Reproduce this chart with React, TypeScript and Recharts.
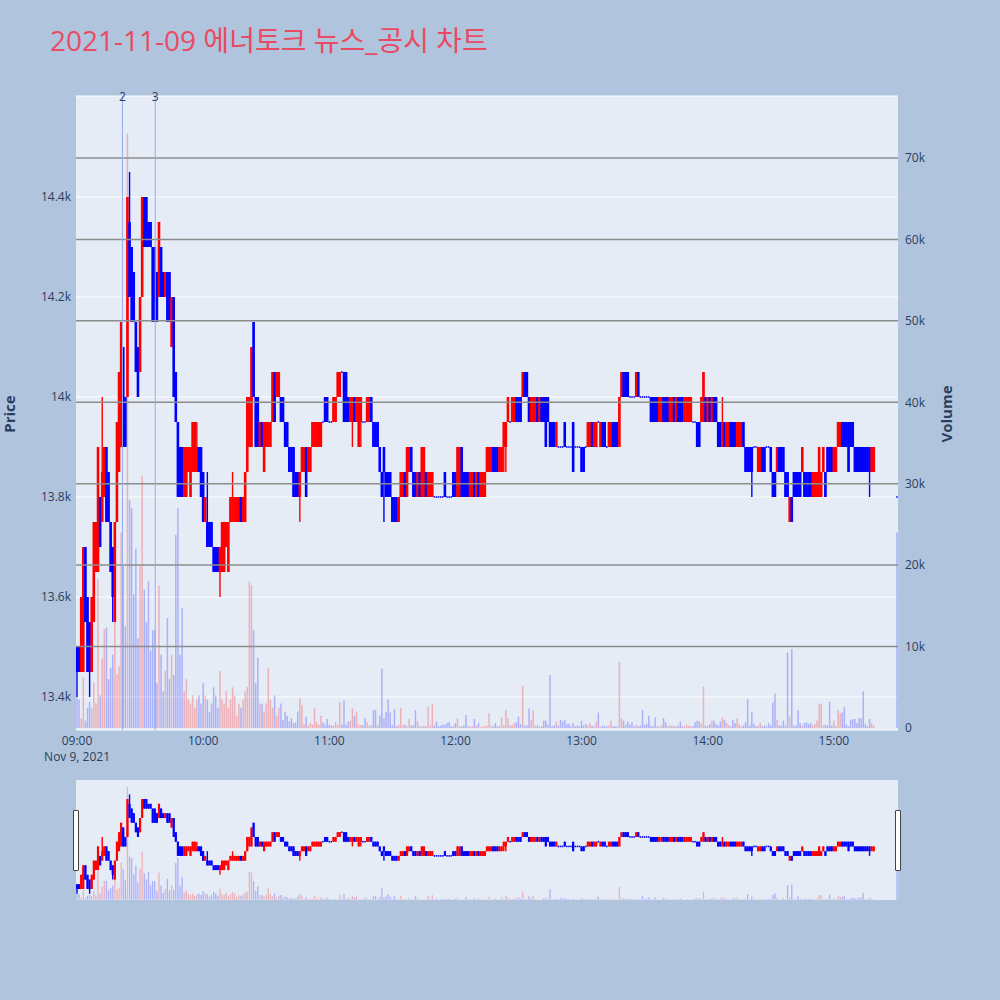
import React from "react";
import { ComposedChart, Bar, XAxis, YAxis, CartesianGrid, ReferenceLine } from "recharts";

const title = "2021-11-09 에너토크 뉴스_공시 차트";
const dateLabel = "Nov 9, 2021";
const timeLabels = ["09:00", "10:00", "11:00", "12:00", "13:00", "14:00", "15:00"];
const priceTicks = [13400, 13600, 13800, 14000, 14200, 14400];
const volumeTicks = [0, 10000, 20000, 30000, 40000, 50000, 60000, 70000];
const newsMinutes = [21.6, 37.2];
const newsLabels = ["2", "3"];

// 1-minute candles: [open, close] or [open, close, high, low]
const h09 = [
  [13500, 13450, 13500, 13400], [13500, 13450], [13450, 13600], [13450, 13700], [13700, 13550], [13600, 13450], [13550, 13450, 13550, 13400], [13450, 13600], [13550, 13750], [13650, 13750],
  [13650, 13900], [13800, 13700], [13750, 13850, 14000, 13750], [13800, 13900], [13900, 13750], [13850, 13750], [13750, 13650], [13700, 13600, 13700, 13550], [13550, 13750], [13750, 13950],
  [13850, 14050], [13900, 14150], [14100, 13900], [14000, 13900], [14000, 14400], [14350, 14200, 14450, 14200], [14300, 14150], [14250, 14150], [14150, 14050], [14100, 14000],
  [14050, 14200], [14200, 14400], [14400, 14300], [14400, 14300], [14350, 14300], [14350, 14300], [14300, 14150], [14300, 14150], [14250, 14150], [14200, 14350],
  [14300, 14200], [14250, 14200], [14200, 14250], [14250, 14150], [14250, 14150], [14100, 14200], [14200, 14000], [14050, 13950], [13950, 13800], [13900, 13800],
  [13900, 13800], [13800, 13900], [13800, 13900], [13850, 13900], [13800, 13900], [13850, 13950], [13850, 13950], [13850, 13900, 13950, 13850], [13900, 13850], [13900, 13800],
];
const h10 = [
  [13850, 13750], [13750, 13800], [13750, 13700, 13850, 13700], [13750, 13700], [13750, 13700], [13700, 13650], [13700, 13650], [13700, 13650], [13650, 13700, 13700, 13600], [13650, 13750],
  [13650, 13750], [13700, 13750], [13650, 13750], [13750, 13800], [13750, 13800, 13850, 13750], [13750, 13800], [13750, 13800], [13750, 13800], [13800, 13750], [13750, 13800],
  [13750, 13850], [13850, 14000], [13900, 14000], [13900, 14100], [14150, 14000], [14000, 13900], [14000, 13900], [13900, 13950], [13950, 13900], [13850, 13950],
  [13900, 13950], [13900, 13950], [13900, 13950], [13950, 14050], [14050, 13950], [14000, 14050], [14000, 14050], [14000, 13950], [14000, 13950], [13950, 13900],
  [13950, 13900], [13900, 13850], [13900, 13850], [13900, 13800], [13850, 13800], [13850, 13800], [13800, 13850, 13850, 13750], [13850, 13900], [13850, 13900], [13900, 13800],
  [13850, 13900], [13850, 13900], [13900, 13950], [13900, 13950], [13900, 13950], [13900, 13950], [13900, 13950], [13950, 13950], [14000, 13950], [14000, 13950],
];
const h11 = [
  [13950, 13950], [13950, 13950], [13950, 14000], [13950, 14000], [14000, 14050], [14000, 14050], [14050, 14050], [14050, 13950], [14050, 13950], [14000, 13950],
  [13950, 14000], [13950, 14000, 14000, 13900], [14000, 13950], [13950, 14000], [13900, 14000], [13950, 14000, 14000, 13900], [13950, 13950], [13950, 13950], [13950, 14000], [13950, 14000],
  [14000, 13950], [13950, 13900], [13950, 13900], [13950, 13900], [13900, 13850], [13850, 13800], [13900, 13850, 13900, 13750], [13850, 13800], [13850, 13800], [13850, 13800],
  [13800, 13750], [13800, 13750], [13800, 13750], [13750, 13800], [13800, 13850], [13800, 13850], [13850, 13800], [13800, 13900], [13850, 13900], [13900, 13850],
  [13850, 13800], [13850, 13800], [13800, 13850], [13850, 13800], [13800, 13900], [13800, 13900], [13850, 13800], [13800, 13850], [13800, 13850], [13800, 13850],
  [13800, 13800], [13800, 13800], [13800, 13800], [13800, 13800], [13800, 13800], [13850, 13800], [13800, 13800], [13800, 13800], [13800, 13800], [13850, 13800],
];
const h12 = [
  [13850, 13800], [13800, 13900], [13800, 13900], [13900, 13800], [13850, 13800], [13850, 13800], [13850, 13800], [13800, 13850], [13800, 13850], [13850, 13800],
  [13800, 13850], [13850, 13800], [13800, 13850], [13800, 13850], [13800, 13850], [13850, 13900], [13850, 13900], [13850, 13900], [13900, 13850], [13900, 13850],
  [13900, 13850], [13850, 13900], [13850, 13900], [13900, 13950, 13950, 13850], [13900, 13950, 13950, 13850], [13950, 14000], [13950, 13950], [13950, 14000], [13950, 14000], [14000, 13950],
  [14000, 13950], [14000, 13950], [14000, 14050], [14050, 14000], [14050, 14000], [14000, 13950], [13950, 14000], [13950, 14000], [13950, 14000], [14000, 13950],
  [13950, 14000], [14000, 13950], [14000, 13950], [14000, 13900], [14000, 13950], [13950, 13900], [13950, 13900], [13950, 13900], [13900, 13950], [13900, 13900],
  [13900, 13900], [13900, 13900], [13950, 13900], [13900, 13900], [13900, 13900], [13900, 13900], [13950, 13850], [13900, 13900], [13900, 13900], [13900, 13900],
];
const h13 = [
  [13900, 13850], [13900, 13850], [13900, 13900], [13900, 13950], [13900, 13950], [13950, 13900], [13900, 13950], [13900, 13950], [13950, 13950], [13900, 13950],
  [13950, 13900], [13950, 13900], [13900, 13900], [13900, 13950], [13900, 13950], [13950, 13900], [13950, 13900], [13950, 13900], [13900, 14000], [14000, 14050],
  [14050, 14000], [14050, 14000], [14050, 14000], [14000, 14000], [14000, 14000], [14000, 14000], [14000, 14050], [14050, 14000], [14000, 14000], [14000, 14000],
  [14000, 14000], [14000, 14000], [14000, 14000], [14000, 13950], [14000, 13950], [14000, 13950], [14000, 13950], [13950, 14000], [13950, 14000], [14000, 13950],
  [14000, 13950], [14000, 13950], [13950, 14000], [13950, 14000], [14000, 13950], [13950, 14000], [14000, 13950], [14000, 13950], [14000, 13950], [13950, 14000],
  [13950, 14000], [13950, 14000], [13950, 14000], [13950, 13950], [13950, 13950], [13950, 13900], [13950, 13900], [13950, 14000], [13950, 14050], [14000, 13950],
];
const h14 = [
  [13950, 14000], [14000, 13950], [13950, 14000], [14000, 13950], [14000, 13950], [13950, 13900], [13950, 13900], [13900, 13950, 14000, 13900], [13950, 13900], [13900, 13950],
  [13900, 13950], [13950, 13900], [13950, 13900], [13950, 13900], [13900, 13950], [13900, 13950], [13900, 13950], [13950, 13900], [13900, 13850], [13900, 13850],
  [13900, 13850], [13900, 13850, 13900, 13800], [13900, 13900], [13900, 13900], [13850, 13900], [13850, 13900], [13900, 13850], [13900, 13850], [13900, 13900], [13900, 13900],
  [13900, 13850], [13850, 13800], [13850, 13800], [13850, 13900], [13900, 13850], [13900, 13850], [13900, 13850], [13850, 13800], [13850, 13800], [13750, 13800],
  [13800, 13750], [13850, 13800], [13850, 13800], [13850, 13800], [13850, 13800], [13850, 13900], [13850, 13800], [13850, 13800], [13850, 13800], [13850, 13800],
  [13800, 13850], [13800, 13850], [13800, 13850], [13800, 13900], [13800, 13850], [13850, 13900], [13850, 13800], [13900, 13850], [13900, 13850], [13900, 13850],
];
const h15 = [
  [13850, 13900], [13850, 13900], [13900, 13950], [13900, 13950], [13950, 13900], [13950, 13900], [13950, 13900], [13950, 13850], [13950, 13900], [13950, 13900],
  [13900, 13850], [13900, 13850], [13900, 13850], [13900, 13850], [13900, 13850], [13900, 13850], [13900, 13850], [13900, 13850, 13900, 13800], [13850, 13900], [13850, 13900],
];
// 15:30 closing auction
const closingMinute = 390;
const closingCandle = [13800, 13800];
const closingVolume = 24000;

// traded volume per minute
const v09 = [
  3800, 3500, 1200, 6200, 900, 2500, 3200, 2400, 5500, 3000,
  18300, 4000, 8500, 12100, 12300, 6000, 7400, 9000, 18000, 6600,
  7600, 24000, 20000, 12500, 73000, 28000, 27000, 16400, 22000, 11000,
  20000, 31000, 17000, 13000, 18000, 9500, 12000, 12000, 5500, 17500,
  9000, 4500, 7000, 13500, 6000, 9000, 6500, 23700, 27000, 9000,
  14700, 4500, 6000, 3500, 3000, 4000, 2500, 3500, 4000, 3000,
];
const v10 = [
  5500, 4000, 3500, 2000, 3000, 5000, 4000, 2500, 7000, 3500,
  3000, 4500, 2500, 3500, 5000, 4000, 1500, 3000, 2500, 3500,
  4500, 5000, 18000, 17500, 12000, 5500, 8600, 3000, 3000, 2000,
  3000, 7400, 3500, 2500, 4000, 1500, 2500, 3000, 1000, 2000,
  1500, 800, 1200, 600, 700, 2000, 3700, 2800, 500, 1400,
  300, 600, 400, 2400, 700, 400, 1500, 700, 400, 1100,
];
const v11 = [
  400, 300, 300, 700, 400, 3200, 400, 3400, 400, 800,
  900, 2400, 1500, 2000, 400, 400, 300, 1200, 700, 300,
  300, 2200, 2200, 300, 1500, 7300, 1200, 2000, 3500, 1900,
  300, 2300, 200, 400, 2500, 300, 400, 200, 1100, 300,
  300, 2200, 800, 200, 200, 300, 200, 2600, 300, 2900,
  300, 800, 200, 300, 400, 400, 600, 700, 200, 200,
];
const v12 = [
  600, 1200, 200, 200, 300, 1600, 200, 200, 200, 1100,
  300, 600, 100, 200, 200, 300, 1800, 300, 200, 600,
  200, 300, 1300, 300, 2200, 1200, 300, 300, 600, 700,
  1400, 500, 5200, 300, 300, 2400, 1000, 2200, 300, 300,
  200, 200, 900, 900, 400, 6500, 200, 300, 800, 300,
  1000, 800, 1000, 500, 500, 200, 600, 200, 300, 200,
];
const v13 = [
  900, 300, 500, 300, 600, 300, 200, 800, 1900, 200,
  300, 200, 200, 300, 900, 200, 200, 200, 8100, 1200,
  900, 400, 800, 400, 700, 200, 400, 200, 300, 2200,
  400, 500, 1500, 300, 200, 1300, 200, 200, 300, 1200,
  700, 200, 300, 300, 200, 200, 300, 800, 200, 200,
  400, 300, 200, 200, 700, 900, 800, 500, 5100, 300,
];
const v14 = [
  300, 500, 900, 900, 500, 300, 800, 1300, 1000, 600,
  300, 200, 1000, 600, 1200, 400, 200, 300, 700, 3500,
  300, 2000, 500, 200, 300, 600, 200, 300, 200, 600,
  300, 3100, 4200, 1000, 300, 300, 900, 300, 9300, 1400,
  9700, 300, 300, 2200, 600, 300, 600, 700, 500, 600,
  300, 500, 900, 2900, 3000, 300, 400, 300, 3200, 300,
];
const v15 = [
  900, 200, 2200, 1800, 1900, 2600, 400, 200, 1000, 1100,
  1100, 600, 1200, 1200, 4500, 500, 200, 1100, 600, 300,
];

const candleHours = [h09, h10, h11, h12, h13, h14, h15];
const volumeHours = [v09, v10, v11, v12, v13, v14, v15];

const toRow = (t: number, c: number[], volume: number) => {
  const [open, close] = c;
  const high = c[2] ?? Math.max(open, close);
  const low = c[3] ?? Math.min(open, close);
  return { t, open, close, range: [low, high], volume };
};

const rows: any[] = [];
candleHours.forEach((hour, hi) => {
  hour.forEach((c, i) => rows.push(toRow(hi * 60 + i, c, volumeHours[hi][i] ?? 0)));
});
rows.push(toRow(closingMinute, closingCandle, closingVolume));

const timeTicks = timeLabels.map((_, i) => i * 60);

const FONT = '"Open Sans", "Noto Sans CJK KR", sans-serif';
const AXIS = "#2a3f5f";
const PAGE_BG = "#b0c4de";
const PLOT_BG = "#e5ecf6";
const RED = "#ff0000";
const BLUE = "#0000ff";
const X_DOMAIN = [-0.5, 390.5];
const PRICE_DOMAIN = [13334, 14602];
const VOLUME_DOMAIN = [-250, 77610];
const PLOT_BOTTOM = 730;

const fmtPrice = (v: number) => (v % 1000 === 0 ? `${v / 1000}k` : `${(v / 1000).toFixed(1)}k`);
const fmtVolume = (v: number) => (v === 0 ? "0" : `${v / 1000}k`);

function CandleShape(props: any) {
  const { x, y, width, height, payload, bw } = props;
  if (!payload || x == null || y == null) return null;
  const [low, high] = payload.range;
  const color = payload.close > payload.open ? RED : BLUE;
  const cx = x + (width || 0) / 2;
  const h = Math.abs(height || 0);
  const top = height < 0 ? y + height : y;
  const k = high > low ? h / (high - low) : 0;
  const yO = top + (high - payload.open) * k;
  const yC = top + (high - payload.close) * k;
  let bTop = Math.min(yO, yC);
  let bH = Math.abs(yO - yC);
  const doji = bH < 1.6;
  if (doji) {
    bTop -= (1.6 - bH) / 2;
    bH = 1.6;
  }
  const w = doji ? Math.min(bw, 1.5) : bw;
  return (
    <g>
      {h > 0 && <line x1={cx} x2={cx} y1={top} y2={top + h} stroke={color} strokeWidth={1.4} />}
      <rect x={cx - w / 2} y={bTop} width={w} height={bH} fill={color} />
    </g>
  );
}

function VolumeShape(props: any) {
  const { x, y, width, height, payload, bw } = props;
  if (!payload || !height || height <= 0) return null;
  const up = payload.close > payload.open;
  return (
    <rect x={x + (width || 0) / 2 - bw / 2} y={y} width={bw} height={height} fill={up ? RED : BLUE} fillOpacity={0.25} />
  );
}

function TimeTick(props: any) {
  const { x, payload } = props;
  const label = timeLabels[Math.round(payload.value / 60)];
  return (
    <g>
      <text x={x} y={PLOT_BOTTOM + 15} textAnchor="middle" fill={AXIS} fontSize={12} fontFamily={FONT}>
        {label}
      </text>
      {payload.value === 0 && (
        <text x={x} y={PLOT_BOTTOM + 31} textAnchor="middle" fill={AXIS} fontSize={12} fontFamily={FONT}>
          {dateLabel}
        </text>
      )}
    </g>
  );
}

export default function App() {
  return (
    <div style={{ position: "absolute", left: 0, top: 0, width: 1000, height: 1000, background: PAGE_BG, overflow: "hidden" }}>
      <div style={{ position: "absolute", left: 0, top: 0 }}>
        <ComposedChart width={1000} height={PLOT_BOTTOM + 45} data={rows} margin={{ top: 96, right: 0, bottom: 0, left: 0 }} barCategoryGap={0} barGap={0}>
          <CartesianGrid xAxisId="x" yAxisId="p" vertical={false} stroke="#ffffff" strokeWidth={1} fill={PLOT_BG} fillOpacity={1} />
          <XAxis
            xAxisId="x"
            dataKey="t"
            type="number"
            domain={X_DOMAIN}
            allowDataOverflow
            ticks={timeTicks}
            interval={0}
            tick={<TimeTick />}
            tickLine={false}
            axisLine={false}
            tickSize={0}
            tickMargin={0}
            height={45}
          />
          <XAxis xAxisId="v" dataKey="t" type="number" domain={X_DOMAIN} allowDataOverflow hide />
          <YAxis
            yAxisId="p"
            orientation="left"
            width={76}
            domain={PRICE_DOMAIN}
            allowDataOverflow
            ticks={priceTicks}
            interval={0}
            tickFormatter={fmtPrice}
            tick={{ fill: AXIS, fontSize: 12, fontFamily: FONT }}
            tickLine={false}
            axisLine={false}
            tickSize={0}
            tickMargin={5}
          />
          <YAxis
            yAxisId="v"
            orientation="right"
            width={102}
            domain={VOLUME_DOMAIN}
            allowDataOverflow
            ticks={volumeTicks}
            interval={0}
            tickFormatter={fmtVolume}
            tick={{ fill: AXIS, fontSize: 12, fontFamily: FONT, textAnchor: "start" }}
            tickLine={false}
            axisLine={false}
            tickSize={0}
            tickMargin={7}
          />
          {volumeTicks
            .filter((v) => v > 0)
            .map((v) => (
              <ReferenceLine key={`vg-${v}`} xAxisId="x" yAxisId="v" y={v} stroke="#8c8c8c" strokeWidth={1.5} />
            ))}
          <Bar xAxisId="v" yAxisId="v" dataKey="volume" isAnimationActive={false} shape={(p: any) => <VolumeShape {...p} bw={1.5} />} />
          {newsMinutes.map((m, i) => (
            <ReferenceLine
              key={`news-${i}`}
              xAxisId="x"
              yAxisId="p"
              x={m}
              stroke="#97aaf0"
              strokeWidth={1}
              label={(lp: any) => (
                <text x={lp.viewBox.x} y={lp.viewBox.y + 5} textAnchor="middle" fill={AXIS} fontSize={12} fontFamily={FONT}>
                  {newsLabels[i]}
                </text>
              )}
            />
          ))}
          <Bar xAxisId="x" yAxisId="p" dataKey="range" isAnimationActive={false} shape={(p: any) => <CandleShape {...p} bw={2.6} />} />
        </ComposedChart>
      </div>

      {/* range slider */}
      <div style={{ position: "absolute", left: 76, top: 780, width: 822, height: 120, background: PLOT_BG }}>
        <ComposedChart width={822} height={120} data={rows} margin={{ top: 0, right: 0, bottom: 0, left: 0 }} barCategoryGap={0} barGap={0}>
          <XAxis xAxisId="x" dataKey="t" type="number" domain={X_DOMAIN} allowDataOverflow hide />
          <XAxis xAxisId="v" dataKey="t" type="number" domain={X_DOMAIN} allowDataOverflow hide />
          <YAxis yAxisId="p" domain={PRICE_DOMAIN} allowDataOverflow hide />
          <YAxis yAxisId="v" domain={VOLUME_DOMAIN} allowDataOverflow hide />
          <Bar xAxisId="v" yAxisId="v" dataKey="volume" isAnimationActive={false} shape={(p: any) => <VolumeShape {...p} bw={1.3} />} />
          <Bar xAxisId="x" yAxisId="p" dataKey="range" isAnimationActive={false} shape={(p: any) => <CandleShape {...p} bw={2.2} />} />
        </ComposedChart>
      </div>
      <div style={{ position: "absolute", left: 73, top: 810, width: 4, height: 59, background: "#fff", border: "1px solid #444", borderRadius: 1 }} />
      <div style={{ position: "absolute", left: 895, top: 810, width: 4, height: 59, background: "#fff", border: "1px solid #444", borderRadius: 1 }} />

      <svg width={1000} height={1000} style={{ position: "absolute", left: 0, top: 0, pointerEvents: "none" }}>
        <text x={50} y={51} fontSize={28} fill="#e94b62" fontFamily={FONT}>
          {title}
        </text>
        <text transform="translate(15,414) rotate(-90)" textAnchor="middle" fontSize={15} fontWeight={700} fill={AXIS} fontFamily={FONT}>
          Price
        </text>
        <text transform="translate(952,414) rotate(-90)" textAnchor="middle" fontSize={15} fontWeight={700} fill={AXIS} fontFamily={FONT}>
          Volume
        </text>
      </svg>
    </div>
  );
}
